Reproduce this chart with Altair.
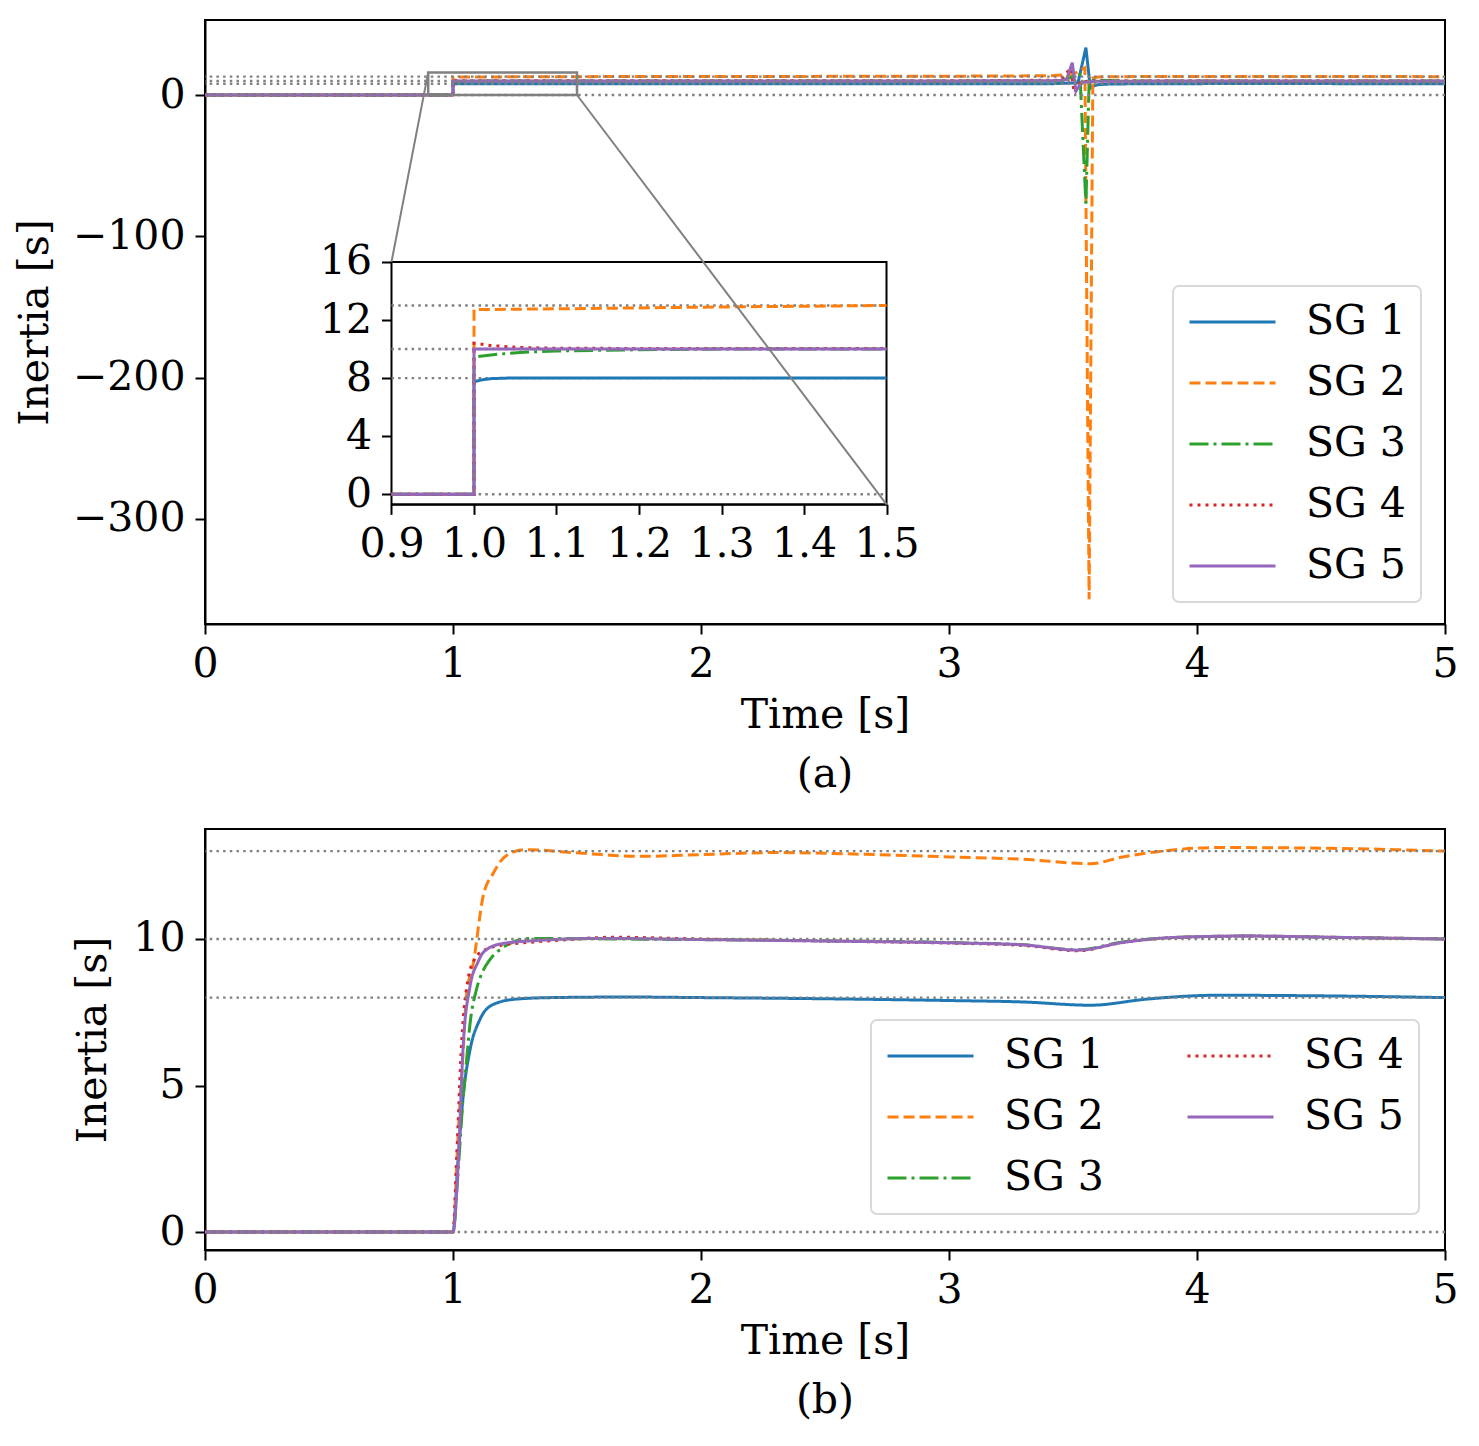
import altair as alt
import pandas as pd

# ---------------- data ----------------
SG = ["SG 1", "SG 2", "SG 3", "SG 4", "SG 5"]
COLORS = ["#1f77b4", "#ff7f0e", "#2ca02c", "#d62728", "#9467bd"]
DASHES = [[1, 0], [11, 5], [19, 5, 3, 5], [3, 5], [1, 0]]

REF_LEVELS = [0, 8, 10, 13]

# panel (a): step estimation
TA1 = [0, 0.9, 1.0, 1.0, 1.01, 1.02, 1.04, 1.5, 2.5, 3.4, 3.52, 3.552, 3.57, 3.585, 3.6, 3.65, 3.8, 4.2, 5.0]
VA1 = [0, 0, 0, 7.75, 7.88, 7.96, 8.0, 8.0, 7.95, 7.9, 8.6, 33.5, 4.8, 6.5, 7.3, 7.8, 8.0, 8.1, 8.0]
TA2 = [0, 0.9, 1.0, 1.0, 1.1, 1.3, 1.5, 2.0, 2.5, 3.0, 3.4, 3.5, 3.548, 3.565, 3.58, 3.6, 3.7, 4.1, 5.0]
VA2 = [0, 0, 0, 12.72, 12.77, 12.9, 13.0, 13.1, 13.2, 13.3, 13.6, 14.6, 19.3, -357, 12.0, 12.8, 13.0, 13.1, 13.0]
TA3 = [0, 0.9, 1.0, 1.0, 1.03, 1.06, 1.1, 1.2, 1.3, 1.5, 3.0, 3.45, 3.528, 3.552, 3.565, 3.58, 3.7, 5.0]
VA3 = [0, 0, 0, 9.45, 9.65, 9.78, 9.87, 9.95, 10.0, 10.0, 9.9, 10.0, 14.6, -77, 9.0, 10.5, 10.0, 10.0]
TA4 = [0, 0.9, 1.0, 1.0, 1.02, 1.05, 1.1, 1.5, 3.0, 3.45, 3.49, 3.505, 3.53, 3.6, 5.0]
VA4 = [0, 0, 0, 10.4, 10.25, 10.12, 10.05, 10.03, 10.0, 10.5, 19.0, 1.6, 9.5, 10.0, 10.0]
TA5 = [0, 0.9, 1.0, 1.0, 1.5, 3.0, 3.45, 3.474, 3.497, 3.512, 3.535, 3.6, 5.0]
VA5 = [0, 0, 0, 10.0, 10.0, 9.95, 10.2, 11.0, 22.9, 2.8, 9.0, 9.8, 10.0]

# panel (b): smooth estimation
TB1 = [0, 1.0, 1.02, 1.041, 1.069, 1.109, 1.163, 1.256, 1.4, 1.7, 2.0, 2.5, 3.0, 3.3, 3.57, 3.8, 4.08, 4.5, 5.0]
VB1 = [0, 0, 2.4, 4.64, 6.23, 7.26, 7.77, 7.95, 8.0, 8.02, 8.0, 7.96, 7.9, 7.85, 7.74, 7.95, 8.08, 8.06, 8.0]
TB2 = [0, 1.0, 1.02, 1.042, 1.054, 1.082, 1.122, 1.163, 1.19, 1.243, 1.3, 1.45, 1.6, 1.75, 2.0, 2.3, 2.7, 3.0, 3.3, 3.57, 3.7, 3.86, 4.08, 4.5, 5.0]
VB2 = [0, 0, 3.2, 6.33, 8.04, 9.18, 11.48, 12.25, 12.63, 12.97, 13.05, 12.97, 12.88, 12.82, 12.88, 12.95, 12.88, 12.8, 12.72, 12.57, 12.8, 13.0, 13.12, 13.1, 13.0]
TB3 = [0, 1.0, 1.02, 1.04, 1.054, 1.07, 1.095, 1.12, 1.149, 1.2, 1.256, 1.32, 1.5, 2.0, 2.5, 3.0, 3.3, 3.52, 3.7, 3.9, 4.2, 4.6, 5.0]
VB3 = [0, 0, 2.0, 4.5, 5.8, 7.2, 8.29, 8.9, 9.3, 9.7, 9.94, 10.02, 10.01, 9.98, 9.94, 9.88, 9.8, 9.63, 9.9, 10.05, 10.1, 10.05, 10.0]
TB4 = [0, 1.0, 1.015, 1.035, 1.06, 1.09, 1.122, 1.19, 1.3, 1.45, 1.65, 2.0, 2.5, 3.0, 3.3, 3.52, 3.7, 3.9, 4.2, 4.6, 5.0]
VB4 = [0, 0, 2.6, 6.5, 8.6, 9.35, 9.6, 9.78, 9.88, 9.97, 10.06, 10.0, 9.93, 9.86, 9.78, 9.6, 9.88, 10.04, 10.1, 10.05, 10.0]
TB5 = [0, 1.0, 1.021, 1.041, 1.069, 1.1, 1.122, 1.19, 1.32, 1.6, 2.0, 2.5, 3.0, 3.3, 3.52, 3.7, 3.9, 4.2, 4.6, 5.0]
VB5 = [0, 0, 2.36, 6.35, 8.4, 9.2, 9.54, 9.83, 9.94, 10.02, 9.98, 9.93, 9.87, 9.8, 9.62, 9.88, 10.05, 10.1, 10.05, 10.0]

X_TICKS = [0, 1, 2, 3, 4, 5]
YA_TICKS = [-300, -200, -100, 0]
YB_TICKS = [0, 5, 10]
INSET_X_TICKS = [0.9, 1.0, 1.1, 1.2, 1.3, 1.4, 1.5]
INSET_Y_TICKS = [0, 4, 8, 12, 16]

# zoomed region (data coords) and inset limits
ZOOM_T = [0.9, 1.5]
ZOOM_V = [0, 16]
INSET_VDOM = [-0.7, 16]

# ---------------- layout constants ----------------
FONT = "DejaVu Serif"
FS = 41
W = 1240
HA = 604
HB = 421
XDOM = [0, 5]
YDOM_A = [-374.5, 53.1]
YDOM_B = [-0.614, 13.754]
# inset box placement expressed in panel-(a) data coordinates
INSET_T0, INSET_T1 = 0.752, 2.748
INSET_VTOP, INSET_VBOT = -118.2, -289.8


def px_a(t):
    return (t - XDOM[0]) / (XDOM[1] - XDOM[0]) * W


def py_a(v):
    return (YDOM_A[1] - v) / (YDOM_A[1] - YDOM_A[0]) * HA


IN_X0, IN_X1 = px_a(INSET_T0), px_a(INSET_T1)
IN_Y0, IN_Y1 = py_a(INSET_VTOP), py_a(INSET_VBOT)


def long_frame(ts, vs):
    rows = []
    for name, t_list, v_list in zip(SG, ts, vs):
        for i, (t, v) in enumerate(zip(t_list, v_list)):
            rows.append({"t": t, "v": v, "sg": name, "i": i})
    return pd.DataFrame(rows)


dfA = long_frame([TA1, TA2, TA3, TA4, TA5], [VA1, VA2, VA3, VA4, VA5])
dfB = long_frame([TB1, TB2, TB3, TB4, TB5], [VB1, VB2, VB3, VB4, VB5])
dfAin = dfA[(dfA.t >= ZOOM_T[0]) & (dfA.t <= ZOOM_T[1])].rename(columns={"t": "ti", "v": "vi"})
dfRef = pd.DataFrame({"v": REF_LEVELS})
dfRefIn = pd.DataFrame({"vi": REF_LEVELS, "ti": ZOOM_T[0], "ti2": ZOOM_T[1]})
dfZoom = pd.DataFrame({"t": [ZOOM_T[0]], "t2": [ZOOM_T[1]], "v": [ZOOM_V[0]], "v2": [ZOOM_V[1]]})
dfInBox = pd.DataFrame({"ti": [ZOOM_T[0]], "ti2": [ZOOM_T[1]], "vi": [INSET_VDOM[0]], "vi2": [INSET_VDOM[1]]})
dfConn = pd.DataFrame({
    "t": [ZOOM_T[0], ZOOM_T[1]],
    "v": [ZOOM_V[1], ZOOM_V[0]],
    "t2": [INSET_T0, INSET_T1],
    "v2": [INSET_VTOP, INSET_VBOT],
})

# ---------------- scales / axes ----------------
sx = alt.Scale(domain=XDOM, nice=False, zero=False)
sya = alt.Scale(domain=YDOM_A, nice=False, zero=False)
syb = alt.Scale(domain=YDOM_B, nice=False, zero=False)
sxi = alt.Scale(domain=ZOOM_T, range=[IN_X0, IN_X1], nice=False, zero=False)
syi = alt.Scale(domain=INSET_VDOM, range=[IN_Y1, IN_Y0], nice=False, zero=False)

ax_x = alt.Axis(values=X_TICKS, format="d", title="Time [s]", titlePadding=11)
ax_ya = alt.Axis(values=YA_TICKS, format="d", title="Inertia [s]", titlePadding=16)
ax_yb = alt.Axis(values=YB_TICKS, format="d", title="Inertia [s]", titlePadding=18)
ax_xi = alt.Axis(values=INSET_X_TICKS, format=".1f", title=None, orient="bottom",
                 offset=-(HA - IN_Y1))
ax_yi = alt.Axis(values=INSET_Y_TICKS, format="d", title=None, orient="left",
                 offset=-IN_X0)

leg_common = dict(
    title=None, orient="none", symbolType="stroke", symbolSize=7396,
    symbolStrokeWidth=3, labelFont=FONT, labelFontSize=FS, labelColor="black",
    labelOffset=29, rowPadding=19, padding=15, strokeColor="#d9d9d9",
    cornerRadius=6, fillColor="rgba(255,255,255,0.8)", clipHeight=42,
)
leg_a = alt.Legend(legendX=968, legendY=266, **leg_common)
leg_b = alt.Legend(legendX=666, legendY=191, columns=2, columnPadding=82, **leg_common)

color_a = alt.Color("sg:N", scale=alt.Scale(domain=SG, range=COLORS), legend=leg_a)
dash_a = alt.StrokeDash("sg:N", scale=alt.Scale(domain=SG, range=DASHES), legend=leg_a)
color_b = alt.Color("sg:N", scale=alt.Scale(domain=SG, range=COLORS), legend=leg_b)
dash_b = alt.StrokeDash("sg:N", scale=alt.Scale(domain=SG, range=DASHES), legend=leg_b)

REF_STYLE = dict(color="gray", strokeDash=[2.5, 4.2], strokeWidth=2.4)

# ---------------- panel (a) ----------------
lines_a = alt.Chart(dfA).mark_line(strokeWidth=3).encode(
    x=alt.X("t:Q", scale=sx, axis=ax_x),
    y=alt.Y("v:Q", scale=sya, axis=ax_ya),
    color=color_a, strokeDash=dash_a, order="i:Q",
)
refs_a = alt.Chart(dfRef).mark_rule(**REF_STYLE).encode(
    y=alt.Y("v:Q", scale=sya, axis=ax_ya))
zoom_rect = alt.Chart(dfZoom).mark_rect(fillOpacity=0, stroke="gray", strokeWidth=2.5).encode(
    x=alt.X("t:Q", scale=sx, axis=ax_x), x2="t2:Q",
    y=alt.Y("v:Q", scale=sya, axis=ax_ya), y2="v2:Q")
main_a = alt.layer(lines_a, refs_a, zoom_rect)

in_bg = alt.Chart(dfInBox).mark_rect(fill="white", stroke="black", strokeWidth=2).encode(
    x=alt.X("ti:Q", scale=sxi, axis=ax_xi), x2="ti2:Q",
    y=alt.Y("vi:Q", scale=syi, axis=ax_yi), y2="vi2:Q")
in_refs = alt.Chart(dfRefIn).mark_rule(**REF_STYLE).encode(
    x=alt.X("ti:Q", scale=sxi, axis=ax_xi), x2="ti2:Q",
    y=alt.Y("vi:Q", scale=syi, axis=ax_yi))
in_lines = alt.Chart(dfAin).mark_line(strokeWidth=3).encode(
    x=alt.X("ti:Q", scale=sxi, axis=ax_xi),
    y=alt.Y("vi:Q", scale=syi, axis=ax_yi),
    color=color_a, strokeDash=dash_a, order="i:Q",
)
inset = alt.layer(in_bg, in_refs, in_lines)

conn = alt.Chart(dfConn).mark_rule(color="gray", strokeWidth=2).encode(
    x=alt.X("t:Q", scale=sx, axis=None), x2="t2:Q",
    y=alt.Y("v:Q", scale=sya, axis=None), y2="v2:Q")

title_style = dict(orient="bottom", fontSize=FS, font=FONT, fontWeight="normal",
                   color="black", anchor="middle", offset=20)

panel_a = alt.layer(main_a, inset, conn).resolve_scale(
    x="independent", y="independent").properties(
    width=W, height=HA, title=alt.TitleParams("(a)", **title_style))

# ---------------- panel (b) ----------------
lines_b = alt.Chart(dfB).mark_line(strokeWidth=3, interpolate="monotone").encode(
    x=alt.X("t:Q", scale=sx, axis=ax_x),
    y=alt.Y("v:Q", scale=syb, axis=ax_yb),
    color=color_b, strokeDash=dash_b, order="i:Q",
)
refs_b = alt.Chart(dfRef).mark_rule(**REF_STYLE).encode(
    y=alt.Y("v:Q", scale=syb, axis=ax_yb))
panel_b = alt.layer(lines_b, refs_b).properties(
    width=W, height=HB, title=alt.TitleParams("(b)", **title_style))

chart = alt.vconcat(panel_a, panel_b, spacing=32).resolve_scale(
    color="independent", strokeDash="independent"
).properties(
    padding={"left": 5, "top": 11, "right": 5, "bottom": 5},
    background="white",
).configure_view(
    stroke="black", strokeWidth=2
).configure_axis(
    domainColor="black", domainWidth=2, tickColor="black", tickWidth=2, tickSize=10,
    labelFont=FONT, labelFontSize=FS, labelColor="black", labelPadding=10,
    titleFont=FONT, titleFontSize=FS, titleFontWeight="normal", titleColor="black",
    grid=False, labelFlush=False, labelOverlap=False,
).configure_legend(
    strokeWidth=2
)

chart.save("out.html", embed_options={"renderer": "svg", "actions": False})
